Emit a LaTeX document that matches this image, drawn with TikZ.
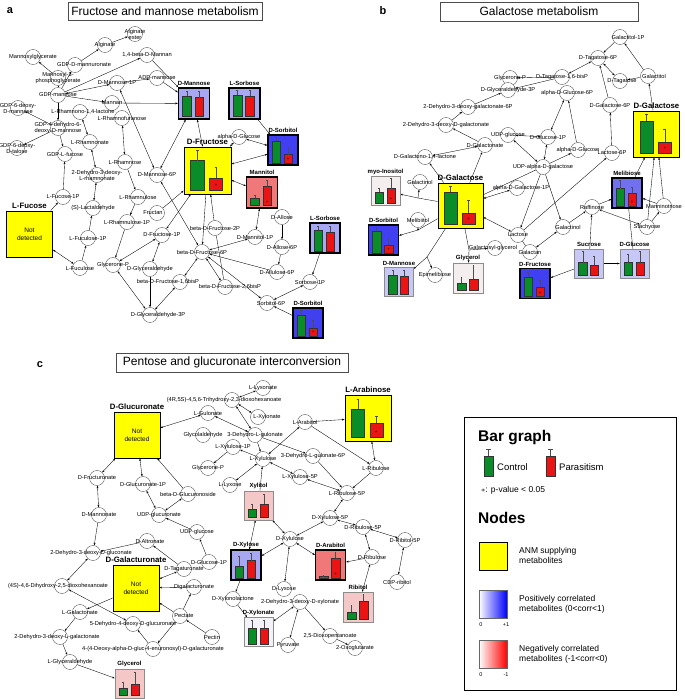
\documentclass[tikz,border=0pt]{standalone}
\usepackage{fontspec}
\setmainfont{Liberation Sans}
\usetikzlibrary{arrows.meta,calc}
\pgfdeclarelayer{bgl}
\pgfdeclarelayer{edges}
\pgfsetlayers{bgl,edges,main}
\definecolor{gfill}{RGB}{10,140,40}
\definecolor{rfill}{RGB}{235,20,20}
\definecolor{ylw}{RGB}{255,255,0}
\definecolor{lblue}{RGB}{168,168,242}
\definecolor{llblue}{RGB}{200,200,246}
\definecolor{sblue}{RGB}{64,64,242}
\definecolor{mblue}{RGB}{112,112,240}
\definecolor{salmon}{RGB}{240,120,120}
\definecolor{ppink}{RGB}{245,200,200}
\definecolor{vpale}{RGB}{245,238,238}
\definecolor{vpaleb}{RGB}{242,242,248}
\tikzset{
  met/.style={circle,draw=black!75,fill=white,line width=0.35pt,minimum size=15pt,inner sep=0pt},
  lab/.style={font=\fontsize{5.7}{6}\selectfont,inner sep=0pt,align=center},
  mbx/.style={draw=black,inner sep=0pt,line width=1.3pt},
  thinb/.style={draw=black!45,line width=0.5pt},
  ybox/.style={fill=ylw,line width=0.9pt},
  blab/.style={font=\bfseries\fontsize{6}{7}\selectfont,inner sep=1pt},
  ylab/.style={font=\bfseries\fontsize{7.8}{8.5}\selectfont,inner sep=1pt},
  nd/.style={font=\fontsize{6.5}{7.8}\selectfont,align=center,inner sep=0pt},
  e/.style={-{Stealth[length=2.6pt,width=1.9pt]},line width=0.35pt},
  ee/.style={{Stealth[length=2.6pt,width=1.9pt]}-{Stealth[length=2.6pt,width=1.9pt]},line width=0.35pt},
  ln/.style={line width=0.35pt},
  ttl/.style={draw=black!70,line width=0.6pt,font=\fontsize{12}{13}\selectfont,inner sep=0pt},
  plet/.style={font=\bfseries\fontsize{11}{12}\selectfont,inner sep=0pt},
  barg/.style={fill=gfill,draw=black!80,line width=0.3pt},
  barr/.style={fill=rfill,draw=black!80,line width=0.3pt},
  errl/.style={draw=black!70,line width=0.3pt},
  starf/.style={font=\fontsize{5}{5}\selectfont,inner sep=0pt},
  legt/.style={font=\fontsize{8.5}{10}\selectfont,anchor=west,align=left,inner sep=0pt},
  legh/.style={font=\bfseries\fontsize{15.5}{16}\selectfont,anchor=west,inner sep=0pt},
  legs/.style={font=\fontsize{5.5}{6}\selectfont,inner sep=0pt},
}
\newcommand{\met}[4][]{\node[met] (#2) at (#3) {}; \node[lab,#1] (#2t) at (#2) {#4};}
\newcommand{\metbox}[6]{\node[mbx,minimum size=#3pt,#4] (#1) at (#2) {};
  \node[#6,anchor=south] (#1l) at ([yshift=0.5pt]#1.north) {#5};}
\newcommand{\bars}[7]{%
  \begin{scope}[shift={(#1.south west)}]
  \filldraw[barg] ({0.15*#2},{-0.1*#2}) rectangle ({0.43*#2},{-#3*#2});
  \filldraw[barr] ({0.55*#2},{-0.1*#2}) rectangle ({0.83*#2},{-#5*#2});
  \draw[errl] ({0.29*#2},{-#3*#2}) -- ({0.29*#2},{-#4*#2}) ({0.26*#2},{-#4*#2}) -- ({0.32*#2},{-#4*#2});
  \draw[errl] ({0.69*#2},{-#5*#2}) -- ({0.69*#2},{-#6*#2}) ({0.66*#2},{-#6*#2}) -- ({0.72*#2},{-#6*#2});
  \node[starf] (#1s) at ({0.69*#2},{-0.19*#2}) {#7};
  \end{scope}}
\begin{document}
\begin{tikzpicture}[x=1pt,y=-1pt]
\useasboundingbox (0,0) rectangle (685,699);
\begin{pgfonlayer}{bgl}
\fill[white] (0,0) rectangle (685,699);
\end{pgfonlayer}
%================ PANEL A
\node[plet] (pa) at (10,11) {a};
\node[ttl,minimum width=194pt,minimum height=18pt] (ta) at (165,11) {Fructose and mannose metabolism};
\met{aAlg}{105,45}{Alginate}
\met{aAlgE}{135,34}{Alginate\\ester}
\met{aMan14}{147,55}{1,4-beta-D-Mannan}
\met{aMgly}{33,57}{Mannosylglycerate}
\met[xshift=9pt]{aGDPmu}{75,65}{GDP-D-mannuronate}
\met{aM3pg}{58,78}{Mannosyl-3-\\phosphoglycerate}
\met{aADPm}{157,78}{ADP-mannose}
\met{aM1P}{117,83}{D-Mannose-1P}
\met{aGDPm}{58,95}{GDP-mannose}
\met{aMannan}{112,103}{Mannan}
\met{aGDP6dm}{18,108}{GDP-6-deoxy-\\D-mannose}
\met[xshift=3pt]{aRlac}{80,112}{L-Rhamnono-1,4-lactone}
\met{aRfur}{122,118}{L-Rhamnofuranose}
\met{aGDP4d}{58,128}{GDP-4-dehydro-6-\\deoxy-D-mannose}
\met{aRnate}{90,142}{L-Rhamnonate}
\met{aGDP6dt}{17,148}{GDP-6-deoxy-\\D-talose}
\met{aGDPfuc}{65,154}{GDP-L-fucose}
\met{aRham}{125,162}{L-Rhamnose}
\met{aDdr}{97,175}{2-Dehydro-3-deoxy-\\L-rhamnonate}
\met{aM6P}{157,175}{D-Mannose-6P}
\met{aFuc1P}{63,197}{L-Fucose-1P}
\met{aRhu}{138,197}{L-Rhamnulose}
\met{aLact}{93,208}{(S)-Lactaldehyde}
\met[xshift=-4pt]{aFructan}{157,213}{Fructan}
\met{aRhu1P}{127,222}{L-Rhamnulose-1P}
\met{aFcl1P}{88,238}{L-Fuculose-1P}
\met{aF1P}{162,235}{D-Fructose-1P}
\met{aFcl}{80,268}{L-Fuculose}
\met{aGlyP}{113,265}{Glycerone-P}
\met{aGlyald}{150,269}{D-Glyceraldehyde}
\met[xshift=-12pt]{aF16}{180,282}{beta-D-Fructose-1,6bisP}
\met[xshift=5pt]{aF26}{225,287}{beta-D-Fructose-2,6bisP}
\met[xshift=8pt]{aG3P}{150,315}{D-Glyceraldehyde-3P}
\met{aF2P}{215,228}{beta-D-Fructose-2P}
\met{aF6P}{202,252}{beta-D-Fructose-6P}
\met{aMt1P}{255,237}{D-Mannitol-1P}
\met{aAll}{282,217}{D-Allose}
\met{aAll6P}{282,247}{D-Allose-6P}
\met{aAlu6P}{277,272}{D-Allulose-6P}
\met{aSb1P}{310,282}{Sorbose-1P}
\met[xshift=4pt]{aSt6P}{267,303}{Sorbitol-6P}
\met{aaGlc}{239,137}{alpha-D-Glucose}
\metbox{aMan}{194,103.5}{31}{fill=lblue}{D-Mannose}{blab}
\bars{aMan}{31}{0.76}{0.92}{0.71}{0.92}{}
\metbox{aSor1}{244.5,103.5}{31}{fill=lblue}{L-Sorbose}{blab}
\bars{aSor1}{31}{0.8}{0.95}{0.75}{0.95}{}
\metbox{aSbt1}{283,150}{30}{fill=sblue}{D-Sorbitol}{blab}
\bars{aSbt1}{30}{0.83}{0.94}{0.37}{0.61}{*}
\metbox{aFru}{207.5,170.5}{47}{ybox}{D-Fructose}{ylab}
\bars{aFru}{47}{0.72}{0.94}{0.35}{0.58}{*}
\metbox{aMtl}{262,192.5}{31}{fill=salmon}{Mannitol}{blab}
\bars{aMtl}{31}{0.35}{0.43}{0.73}{0.92}{*}
\metbox{aSor2}{325,238}{30}{fill=lblue}{L-Sorbose}{blab}
\bars{aSor2}{30}{0.78}{0.91}{0.72}{0.91}{}
\metbox{aSbt2}{308,323}{30}{fill=sblue}{D-Sorbitol}{blab}
\bars{aSbt2}{30}{0.8}{0.94}{0.36}{0.61}{*}
\metbox{aFuc}{29.5,234}{46}{ybox}{L-Fucose}{ylab}
\node[nd] (aFucN) at (aFuc) {Not\\detected};
%================ PANEL B
\node[plet] (pb) at (383,11) {b};
\node[ttl,minimum width=198pt,minimum height=19pt] (tb) at (539,11.5) {Galactose metabolism};
\met[xshift=8pt]{bGol1P}{620,37}{Galactitol-1P}
\met{bTag6P}{598,58}{D-Tagatose-6P}
\met{bGlyP}{510,78}{Glycerone-P}
\met{bTagbP}{562,77}{D-Tagatose-1,6-bisP}
\met[xshift=2pt]{bTag}{620,81}{D-Tagatose}
\met[xshift=6pt]{bGol}{648,76}{Galactitol}
\met{bG3P}{508,90}{D-Glyceraldehyde-3P}
\met{bG6P}{567,93}{alpha-D-Glucose-6P}
\met{bDdg6P}{468,107}{2-Dehydro-3-deoxy-galactonate-6P}
\met{bGal6P}{610,105}{D-Galactose-6P}
\met{bDdg}{446,125}{2-Dehydro-3-deoxy-D-galactonate}
\met{bUDPg}{508,135}{UDP-glucose}
\met{bG1P}{548,137}{D-Glucose-1P}
\met{bGnate}{485,145}{D-Galactonate}
\met{bGlac}{425,157}{D-Galactono-1,4-lactone}
\met{baGlc}{578,150}{alpha-D-Glucose}
\met{bLac6P}{612,153}{Lactose-6P}
\met{bUDPgal}{543,167}{UDP-alpha-D-galactose}
\met[xshift=4pt]{bGal1P}{517,188}{alpha-D-Galactose-1P}
\met{bGnol}{420,182}{Galactinol}
\met{bMelt}{418,220}{Melibiitol}
\met{bEpim}{435,275}{Epimelibiose}
\met[xshift=-2pt]{bGgly}{495,248}{Galactosyl-glycerol}
\met{bLac}{518,235}{Lactose}
\met{bGan}{530,252}{Galactan}
\met{bRaf}{592,207}{Raffinose}
\met[xshift=5pt]{bGnol2}{563,227}{Galactinol}
\met{bMant}{664,206}{Manninotriose}
\met{bSta}{647,227}{Stachyose}
\metbox{bGalT}{656.5,134}{46}{ybox}{D-Galactose}{ylab}
\bars{bGalT}{46}{0.8}{0.95}{0.34}{0.62}{*}
\metbox{bGal}{460.5,205.5}{45}{ybox}{D-Galactose}{ylab}
\bars{bGal}{45}{0.8}{0.95}{0.35}{0.62}{*}
\metbox{bMyo}{385.5,191}{29}{fill=vpale,thinb}{myo-Inositol}{blab}
\bars{bMyo}{29}{0.47}{0.62}{0.59}{0.94}{*}
\metbox{bSbt}{383.5,240}{30}{fill=sblue}{D-Sorbitol}{blab}
\bars{bSbt}{30}{0.83}{0.94}{0.36}{0.58}{*}
\metbox{bMan}{399,282}{29}{fill=llblue,thinb}{D-Mannose}{blab}
\bars{bMan}{29}{0.76}{0.91}{0.7}{0.91}{}
\metbox{bGly}{468,278}{30}{fill=vpale,thinb}{Glycerol}{blab}
\bars{bGly}{30}{0.34}{0.55}{0.48}{0.94}{}
\metbox{bMel}{627,193}{30}{fill=mblue}{Melibiose}{blab}
\bars{bMel}{30}{0.67}{0.94}{0.53}{0.72}{*}
\metbox{bSuc}{589,263.5}{29}{fill=llblue,thinb}{Sucrose}{blab}
\bars{bSuc}{29}{0.54}{0.95}{0.45}{0.77}{}
\metbox{bGlc}{634.5,263.5}{29}{fill=llblue,thinb}{D-Glucose}{blab}
\bars{bGlc}{29}{0.57}{0.83}{0.57}{0.95}{}
\metbox{bFru}{535,283.5}{30}{fill=sblue}{D-Fructose}{blab}
\bars{bFru}{30}{0.73}{0.89}{0.39}{0.62}{*}
\coordinate (bj1) at (418,198);
\coordinate (bj2) at (418,230);
\coordinate (bj3) at (427,257);
\coordinate (bj4) at (469,250);
%================ PANEL C
\node[plet] (pc) at (40,365) {c};
\node[ttl,minimum width=232pt,minimum height=19pt] (tc) at (232,362.5) {Pentose and glucuronate interconversion};
\met[xshift=-8pt]{c4R}{232,400}{(4R,5S)-4,5,6-Trihydroxy-2,3-dioxohexanoate}
\met{cLyxn}{263,388}{L-Lyxonate}
\met{cGul}{208,413}{L-Gulonate}
\met[xshift=9pt]{cXyln}{258,417}{L-Xylonate}
\met{cGlyc}{203,435}{Glycolaldehyde}
\met{cDhg}{255,435}{3-Dehydro-L-gulonate}
\met{cXu1P}{233,447}{L-Xylulose-1P}
\met{cArbt}{305,422}{L-Arabitol}
\met{cDhg6P}{313,456}{3-Dehydro-L-gulonate-6P}
\met{cLXu}{263,459}{L-Xylulose}
\met{cGlyP}{208,468}{Glycerone-P}
\met{cLRu}{376,468}{L-Ribulose}
\met{cLLyx}{230,485}{L-Lyxose}
\met{cLXu5P}{300,477}{L-Xylulose-5P}
\met{cLRu5P}{347,493}{L-Ribulose-5P}
\met{cDXu5P}{330,518}{D-Xylulose-5P}
\met{cDRu5P}{363,527}{D-Ribulose-5P}
\met{cRbt5P}{405,540}{D-Ribitol-5P}
\met{cDXu}{290,539}{D-Xylulose}
\met{cDRu}{372,557}{D-Ribulose}
\met{cCDP}{397,582}{CDP-ribitol}
\met{cDLyx}{284,589}{D-Lyxose}
\met{cXlac}{233,599}{D-Xylonolactone}
\met{cDdx}{300,602}{2-Dehydro-3-deoxy-D-xylonate}
\met{cPyr}{288,645}{Pyruvate}
\met{cDiox}{330,636}{2,5-Dioxopentanoate}
\met{cOxo}{355,648}{2-Oxoglutarate}
\met{cFrn}{97,478}{D-Fructuronate}
\met{cGn1P}{143,484}{D-Glucuronate-1P}
\met{cBgl}{188,494}{beta-D-Glucuronoside}
\met{cMnn}{99,515}{D-Mannonate}
\met{cUDPgn}{159,515}{UDP-glucuronate}
\met{cUDPg}{197,532}{UDP-glucose}
\met[xshift=3pt]{cAlt}{147,541}{D-Altronate}
\met[xshift=-2pt]{cDdgl}{93,553}{2-Dehydro-3-deoxy-D-gluconate}
\met{cG1P}{209,562}{D-Glucose-1P}
\met{cTagn}{184,569}{D-Tagaturonate}
\met[xshift=-4pt]{c4S}{62,586}{(4S)-4,6-Dihydroxy-2,5-dioxohexanoate}
\met{cDigal}{194,587}{Digalacturonate}
\met{cLGaln}{80,612}{L-Galactonate}
\met[xshift=4pt]{cPect}{180,616}{Pectate}
\met{c5D}{133,624}{5-Dehydro-4-deoxy-D-glucuronate}
\met[xshift=-3pt]{cDdlg}{60,637}{2-Dehydro-3-deoxy-L-galactonate}
\met{cPectin}{212,637}{Pectin}
\met{c44}{153,649}{4-(4-Deoxy-alpha-D-gluc-4-enuronosyl)-D-galacturonate}
\met{cLGa}{70,662}{L-Glyceraldehyde}
\metbox{cGlcA}{137,435}{46}{ybox}{D-Glucuronate}{ylab}
\node[nd] (cGlcAN) at (cGlcA) {Not\\detected};
\metbox{cAra}{368,418}{46}{ybox}{L-Arabinose}{ylab}
\bars{cAra}{46}{0.71}{0.93}{0.4}{0.54}{*}
\metbox{cXyl}{258.5,505.5}{29}{fill=ppink,thinb}{Xylitol}{blab}
\bars{cXyl}{29}{0.4}{0.57}{0.57}{0.9}{}
\metbox{cDXyl}{246,565}{30}{fill=lblue}{D-Xylose}{blab}
\bars{cDXyl}{30}{0.5}{0.83}{0.67}{0.92}{}
\metbox{cDAra}{330.5,565}{30}{fill=salmon}{D-Arabitol}{blab}
\bars{cDAra}{30}{0.15}{0.17}{0.76}{0.94}{*}
\metbox{cRib}{358,607}{30}{fill=ppink,thinb}{Ribitol}{blab}
\bars{cRib}{30}{0.34}{0.57}{0.7}{0.94}{}
\metbox{cDXn}{258.5,632}{29}{fill=vpaleb,thinb}{D-Xylonate}{blab}
\bars{cDXn}{29}{0.63}{0.91}{0.63}{0.91}{}
\metbox{cGalA}{136,588}{46}{ybox}{D-Galacturonate}{ylab}
\node[nd] (cGalAN) at (cGalA) {Not\\detected};
\metbox{cGly}{129.5,683.5}{29}{fill=ppink,thinb}{Glycerol}{blab}
\bars{cGly}{29}{0.36}{0.56}{0.5}{0.91}{}
%================ LEGEND
\node[draw=black,line width=0.7pt,minimum width=212pt,minimum height=273pt,anchor=north west,inner sep=0pt] (leg) at (464,417) {};
\node[legh] (lbg) at (478,438) {Bar graph};
\node[barg,minimum width=9pt,minimum height=20pt,inner sep=0pt] (lgb) at (488.5,466) {};
\draw[errl] (lgb.north) -- ++(0,-7) ++(-2.5,0) -- ++(5,0);
\node[legt,font=\fontsize{9.5}{10}\selectfont] (lgt) at (497,467) {Control};
\node[barr,minimum width=9pt,minimum height=20pt,inner sep=0pt] (lrb) at (550.5,466) {};
\draw[errl] (lrb.north) -- ++(0,-7) ++(-2.5,0) -- ++(5,0);
\node[legt,font=\fontsize{9.5}{10}\selectfont] (lrt) at (559,467) {Parasitism};
\node[legt] (lst) at (481,490) {$\ast$: p-value {<} 0.05};
\node[legh] (lnd) at (478,518) {Nodes};
\node[ybox,draw=black,minimum size=28pt,inner sep=0pt] (lyb) at (493,556) {};
\node[legt] (lyt) at (519,555) {ANM supplying\\metabolites};
\shade[left color=white,right color=blue,draw=black!60,line width=0.4pt] (479,590) rectangle (507,618);
\node[legs] (lb0) at (481,625) {0};
\node[legs] (lb1) at (506,625) {+1};
\node[legt] (lbt) at (519,604) {Positively correlated\\metabolites (0{<}corr{<}1)};
\shade[left color=white,right color=red,draw=black!60,line width=0.4pt] (479,640) rectangle (507,668);
\node[legs] (lr0) at (481,675) {0};
\node[legs] (lr1) at (506,675) {-1};
\node[legt] (lrt2) at (519,654) {Negatively correlated\\metabolites (-1{<}corr{<}0)};
%================ EDGES
\begin{pgfonlayer}{edges}
% panel a
\draw[e] (aGDPmu) -- (aAlg);
\draw[e] (aAlg) -- (aAlgE);
\draw[e] (aM3pg) -- (aMgly);
\draw[e] (aGDPm) -- (aGDPmu);
\draw[ln] (aGDPm) -- (aM3pg);
\draw[e] (aGDPm) -- (aMan14);
\draw[ee] (aGDPm) -- (aM1P);
\draw[e] (aGDPm) -- (aMannan);
\draw[e] (aGDPm) -- (aGDP4d);
\draw[e] (aGDP4d) -- (aGDP6dm);
\draw[e] (aGDP4d) -- (aGDP6dt);
\draw[e] (aGDP4d) -- (aGDPfuc);
\draw[e] (aM1P) -- (aADPm);
\draw[e] (aMan14) -- (aMan);
\draw[e] (aADPm) -- (aMan);
\draw[e] (aMannan) -- (aMan);
\draw[ee] (aM1P) -- (aM6P);
\draw[ee] (aRlac) -- (aRnate);
\draw[ee] (aRfur) -- (aRham);
\draw[ee] (aRnate) -- (aDdr);
\draw[ee] (aDdr) -- (aLact);
\draw[e] (aRham) -- (aRhu);
\draw[e] (aRhu) -- (aRhu1P);
\draw[e] (aRhu1P) -- (aGlyP);
\draw[e] (aFuc1P) -- (aGDPfuc);
\draw[e] (aFuc) -- (aFuc1P);
\draw[ee] (aFuc) -- (aFcl);
\draw[e] (aFcl) -- (aFcl1P);
\draw[e] (aFcl1P) -- (aLact);
\draw[ee] (aGlyP) -- (aF1P);
\draw[ee] (aGlyP) -- (aG3P);
\draw[ee] (aGlyald) -- (aF1P);
\draw[e] (aGlyald) -- (aG3P);
\draw[ee] (aF16) -- (aG3P);
\draw[ee] (aF16) -- (aF6P);
\draw[ee] (aFru) -- (aF1P);
\draw[e] (aFructan) -- (aFru);
\draw[ee] (aM6P) -- (aMan);
\draw[ee] (aM6P) -- (aF6P);
\draw[e] (aFru) -- (aF6P);
\draw[e] (aF2P) -- (aFru);
\draw[ee] (aFru) -- (aaGlc);
\draw[ee] (aaGlc) -- (aSbt1);
\draw[ee] (aFru) -- (aSbt1);
\draw[e] (aSor1) -- (aSbt1);
\draw[ee] (aMan) -- (aFru);
\draw[ee] (aFru) -- (aMtl);
\draw[ee] (aMtl) -- (aMt1P);
\draw[ee] (aMt1P) -- (aF6P);
\draw[e] (aAll) -- (aAll6P);
\draw[e] (aAll6P) -- (aAlu6P);
\draw[e] (aAlu6P) -- (aF6P);
\draw[e] (aSor2) -- (aSb1P);
\draw[ee] (aSb1P) -- (aSt6P);
\draw[e] (aSbt2) -- (aSt6P);
\draw[ee] (aSt6P) -- (aF6P);
\draw[ee] (aF26) -- (aF6P);
\draw[ln] (aF26) -- (aF2P);
% panel b
\draw[e] (bGol1P) -- (bTag6P);
\draw[e] (bGol) -- (bGol1P);
\draw[ee] (bTag6P) -- (bTagbP);
\draw[ee] (bTag6P) -- (bTag);
\draw[e] (bGol) -- (bTag);
\draw[e] (bTagbP) -- (bGlyP);
\draw[e] (bTagbP) -- (bG3P);
\draw[e] (bGal6P) -- (bTag6P);
\draw[e] (bLac6P) -- (bGal6P);
\draw[e] (bGalT) -- (bGol);
\draw[e] (baGlc) -- (bG6P);
\draw[ee] (bG6P) -- (bG1P);
\draw[ee] (bG1P) -- (bUDPg);
\draw[ee] (bG1P) -- (bUDPgal);
\draw[ee] (bUDPg) -- (bUDPgal);
\draw[e] (bUDPgal) -- (bLac);
\draw[e] (bUDPgal) -- (bGnol2);
\draw[ee] (bGal) -- (bGal1P);
\draw[ee] (bLac) -- (bGal);
\draw[e] (bLac) -- (bLac6P);
\draw[e] (bGal) -- (bGnate);
\draw[e] (bGnate) -- (bDdg);
\draw[e] (bDdg) -- (bDdg6P);
\draw[e] (bDdg6P) -- (bG3P);
\draw[ee] (bGlac) -- (bGnate);
\draw[e] (bGal) -- (bGlac);
\draw[ln] (bGal) -- (bj1); \draw[e] (bj1) -- (bMyo); \draw[e] (bj1) -- (bGnol);
\draw[ln] (bGal) -- (bj2); \draw[e] (bj2) -- (bSbt); \draw[e] (bj2) -- (bMelt);
\draw[ln] (bGal) -- (bj3); \draw[e] (bj3) -- (bMan); \draw[e] (bj3) -- (bEpim);
\draw[ln] (bGal) -- (bj4); \draw[e] (bj4) -- (bGly); \draw[e] (bj4) -- (bGgly);
\draw[ln] (bGan) -- (bLac);
\draw[ee] (bGan) -- (bGnol2);
\draw[e] (bGnol2) -- (bRaf);
\draw[e] (bSuc) -- (bRaf);
\draw[ee] (bRaf) -- (bSta);
\draw[e] (bRaf) -- (bMel);
\draw[e] (bMant) -- (bMel);
\draw[e] (bMant) -- (bGalT);
\draw[e] (bSta) -- (bGalT);
\draw[e] (bMel) -- (bGalT);
\draw[e] (bSta) -- (bMant);
\draw[ln] (bGlc) -- (bMel);
\draw[e] (bSuc) -- (bGlc);
\draw[e] (bSuc) -- (bFru);
\draw[e] (bGal) -- (baGlc);
% panel c
\draw[ee] (cGlcA) -- (cGul);
\draw[ee] (cGul) -- (cDhg);
\draw[ee] (c4R) -- (cLyxn);
\draw[ee] (c4R) -- (cXyln);
\draw[ee] (c4R) -- (cDhg);
\draw[e] (cDhg) -- (cLXu);
\draw[e] (cLXu) -- (cXu1P);
\draw[e] (cXu1P) -- (cGlyP);
\draw[ee] (cLXu) -- (cArbt);
\draw[ee] (cLXu) -- (cLLyx);
\draw[ee] (cLXu) -- (cLXu5P);
\draw[e] (cXyl) -- (cLXu);
\draw[e] (cArbt) -- (cAra);
\draw[e] (cArbt) -- (cLRu);
\draw[ee] (cAra) -- (cLRu);
\draw[e] (cLRu) -- (cLRu5P);
\draw[ee] (cLXu5P) -- (cLRu5P);
\draw[e] (cDhg) -- (cDhg6P);
\draw[e] (cDhg6P) -- (cLRu5P);
\draw[ee] (cLRu5P) -- (cDXu5P);
\draw[ee] (cDXu5P) -- (cDRu5P);
\draw[ee] (cDRu5P) -- (cRbt5P);
\draw[ee] (cRbt5P) -- (cCDP);
\draw[ee] (cDRu5P) -- (cDRu);
\draw[e] (cDRu) -- (cDAra);
\draw[ee] (cDRu) -- (cRib);
\draw[ee] (cDXu5P) -- (cDXu);
\draw[ee] (cXyl) -- (cDXu);
\draw[ee] (cDXu) -- (cDXyl);
\draw[ee] (cDXu) -- (cDAra);
\draw[ee] (cDXu) -- (cDLyx);
\draw[ee] (cDXyl) -- (cXyl);
\draw[e] (cDXyl) -- (cXlac);
\draw[e] (cXlac) -- (cDXn);
\draw[ee] (cDXn) -- (cDdx);
\draw[ee] (cDdx) -- (cPyr);
\draw[e] (cDdx) -- (cDiox);
\draw[e] (cDiox) -- (cOxo);
\draw[ee] (cGlcA) -- (cFrn);
\draw[ee] (cGlcA) -- (cGn1P);
\draw[e] (cBgl) -- (cGlcA);
\draw[ee] (cGn1P) -- (cUDPgn);
\draw[ee] (cBgl) -- (cUDPgn);
\draw[e] (cUDPg) -- (cUDPgn);
\draw[e] (cG1P) -- (cUDPg);
\draw[ee] (cFrn) -- (cMnn);
\draw[e] (cMnn) -- (cDdgl);
\draw[e] (cAlt) -- (cDdgl);
\draw[e] (cTagn) -- (cAlt);
\draw[ee] (cGalA) -- (cTagn);
\draw[ee] (cDdgl) -- (c4S);
\draw[ee] (c4S) -- (c5D);
\draw[e] (cDigal) -- (cGalA);
\draw[e] (cPect) -- (cDigal);
\draw[e] (cPect) -- (cGalA);
\draw[e] (cPectin) -- (cPect);
\draw[e] (cPect) -- (c44);
\draw[e] (c44) -- (c5D);
\draw[e] (cGalA) -- (cLGaln);
\draw[e] (cLGaln) -- (cDdlg);
\draw[e] (cDdlg) -- (cLGa);
\draw[e] (cLGa) -- (cGly);
\end{pgfonlayer}
\end{tikzpicture}
\end{document}
